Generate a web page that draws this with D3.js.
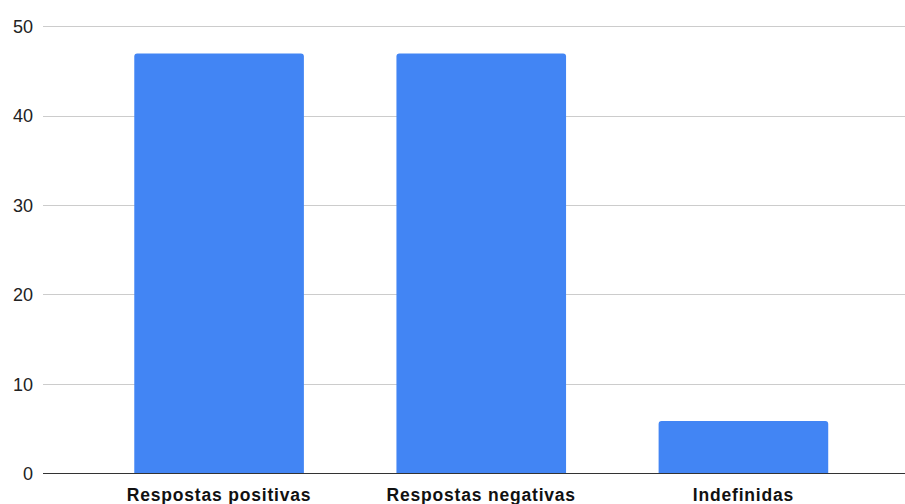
<!DOCTYPE html>
<html>
<head>
<meta charset="utf-8">
<script src="https://cdn.jsdelivr.net/npm/d3@7"></script>
<style>
  html, body { margin: 0; padding: 0; background: #fff; }
  svg { display: block; }
</style>
</head>
<body>
<svg id="chart" width="905" height="504"></svg>
<script>
// Response counts per category
const categories = ["Respostas positivas", "Respostas negativas", "Indefinidas"];
const values = [47, 47, 5.9];
const yTicks = [0, 10, 20, 30, 40, 50];

const svg = d3.select("#chart");

const gridLeft = 43, gridRight = 905;
const y = d3.scaleLinear().domain([0, 50]).range([473.7, 26.7]);
const x = d3.scaleBand().domain(categories).range([88, 874.5]).paddingInner(0.353).paddingOuter(0.1765);

// horizontal gridlines
svg.append("g")
  .selectAll("line")
  .data(yTicks.filter(t => t !== 0))
  .join("line")
  .attr("x1", gridLeft).attr("x2", gridRight)
  .attr("y1", d => Math.floor(y(d)) + 0.5).attr("y2", d => Math.floor(y(d)) + 0.5)
  .attr("stroke", "#cccccc").attr("stroke-width", 1);

// y tick labels
svg.append("g")
  .selectAll("text")
  .data(yTicks)
  .join("text")
  .attr("x", 33)
  .attr("y", d => y(d))
  .attr("dy", "0.35em")
  .attr("text-anchor", "end")
  .attr("font-family", "Liberation Sans, Arial, sans-serif")
  .attr("font-size", 18)
  .attr("fill", "#222")
  .text(d => d);

// bars with rounded top corners
const r = 3;
function barPath(x0, w, yTop, yBase) {
  const rr = Math.min(r, (yBase - yTop));
  return `M${x0},${yBase}V${yTop + rr}Q${x0},${yTop} ${x0 + rr},${yTop}H${x0 + w - rr}Q${x0 + w},${yTop} ${x0 + w},${yTop + rr}V${yBase}Z`;
}
svg.append("g")
  .selectAll("path")
  .data(categories.map((c, i) => ({ c, v: values[i] })))
  .join("path")
  .attr("d", d => barPath(x(d.c), x.bandwidth(), y(d.v), y(0)))
  .attr("fill", "#4285f4");

// baseline
svg.append("line")
  .attr("x1", gridLeft).attr("x2", gridRight)
  .attr("y1", Math.floor(y(0)) + 0.5).attr("y2", Math.floor(y(0)) + 0.5)
  .attr("stroke", "#333").attr("stroke-width", 1);

// category labels
svg.append("g")
  .selectAll("text")
  .data(categories)
  .join("text")
  .attr("x", d => x(d) + x.bandwidth() / 2)
  .attr("y", 501)
  .attr("text-anchor", "middle")
  .attr("font-family", "Liberation Sans, Arial, sans-serif")
  .attr("font-weight", "bold")
  .attr("font-size", 17.5)
  .attr("letter-spacing", 0.8)
  .attr("fill", "#111")
  .text(d => d);
</script>
</body>
</html>
